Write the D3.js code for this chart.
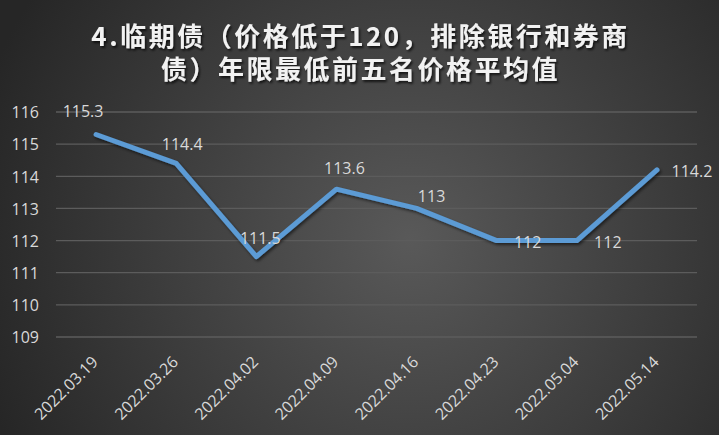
<!DOCTYPE html>
<html><head><meta charset="utf-8">
<script src="https://cdn.jsdelivr.net/npm/d3@7/dist/d3.min.js"></script>
<style>html,body{margin:0;padding:0;background:#fff;overflow:hidden}</style>
</head><body>
<svg id="c" width="721" height="435"></svg>
<script>
const categories = ["2022.03.19","2022.03.26","2022.04.02","2022.04.09","2022.04.16","2022.04.23","2022.05.04","2022.05.14"];
const values = [115.3, 114.4, 111.5, 113.6, 113, 112, 112, 114.2];
const yTicks = [109, 110, 111, 112, 113, 114, 115, 116];
const titleLines = ["4.临期债（价格低于120，排除银行和券商", "债）年限最低前五名价格平均值"];
// label offsets (dx, dy) relative to each point
const labelOffsets = [[-13,-23],[6,-19],[4,-18],[8,-21],[15,-12],[31,2],[31,2],[35,1]];

const svg = d3.select("#c");
const W = 721, H = 435;
const defs = svg.append("defs");
const rg = defs.append("radialGradient").attr("id","bg").attr("gradientUnits","userSpaceOnUse")
  .attr("cx",410).attr("cy",240).attr("r",450);
rg.append("stop").attr("offset","0%").attr("stop-color","#595959");
rg.append("stop").attr("offset","100%").attr("stop-color","#262626");
const sh = defs.append("filter").attr("id","sh").attr("x","-10%").attr("y","-10%").attr("width","120%").attr("height","130%");
sh.append("feDropShadow").attr("dx",1.5).attr("dy",2).attr("stdDeviation",1.5).attr("flood-color","#000").attr("flood-opacity",0.55);
const tsh = defs.append("filter").attr("id","tsh").attr("x","-5%").attr("y","-20%").attr("width","110%").attr("height","150%");
tsh.append("feDropShadow").attr("dx",1.5).attr("dy",2).attr("stdDeviation",1.2).attr("flood-color","#000").attr("flood-opacity",0.7);

svg.append("rect").attr("width",719).attr("height",H).attr("fill","url(#bg)");
svg.append("rect").attr("x",719).attr("width",2).attr("height",H).attr("fill","#fff");

const x = d3.scaleBand().domain(categories).range([56, 697]);
const y = d3.scaleLinear().domain([109, 116]).range([337, 112]);

// gridlines
svg.append("g").selectAll("line").data(yTicks).join("line")
  .attr("x1",56).attr("x2",697)
  .attr("y1",d=>y(d)).attr("y2",d=>y(d))
  .attr("stroke","#5c5c5c").attr("stroke-width",1.3);

// y axis labels
const yAxis = d3.axisLeft(y).tickValues(yTicks).tickFormat(d3.format("d")).tickSize(0).tickPadding(0);
const ya = svg.append("g").attr("transform","translate(39,0)").call(yAxis);
ya.select(".domain").remove();
ya.selectAll("text").attr("fill","#d9d9d9").attr("font-family","Open Sans").attr("font-size",16).attr("dy","0.36em");

// x axis labels
const xAxis = d3.axisBottom(x).tickSize(0).tickPadding(0);
const xa = svg.append("g").call(xAxis);
xa.select(".domain").remove();
xa.selectAll(".tick").attr("transform", d => `translate(${x(d)+x.bandwidth()/2+3},363)`);
xa.selectAll("text").attr("fill","#d9d9d9").attr("font-family","Open Sans").attr("font-size",16)
  .attr("text-anchor","end").attr("dy",0).attr("y",0).attr("transform","rotate(-45)");

// line
const cx = d => x(d)+x.bandwidth()/2;
const line = d3.line().x((d,i)=>cx(categories[i])).y(d=>y(d));
svg.append("path").datum(values).attr("d",line)
  .attr("fill","none").attr("stroke","#5b9bd5").attr("stroke-width",5)
  .attr("stroke-linejoin","round").attr("stroke-linecap","round").attr("filter","url(#sh)");

// data labels
svg.append("g").selectAll("text").data(values).join("text")
  .attr("x",(d,i)=>cx(categories[i])+labelOffsets[i][0])
  .attr("y",(d,i)=>y(d)+labelOffsets[i][1])
  .attr("dy","0.36em").attr("text-anchor","middle")
  .attr("fill","#d9d9d9").attr("font-family","Open Sans").attr("font-size",16)
  .text(d=>d);

// title
svg.append("g").attr("filter","url(#tsh)").selectAll("text").data(titleLines).join("text")
  .attr("x",W/2).attr("y",(d,i)=>46+i*33)
  .attr("text-anchor","middle").attr("fill","#f2f2f2")
  .attr("font-family","Noto Sans CJK SC").attr("font-weight","bold").attr("font-size",26)
  .attr("letter-spacing",2.5)
  .text(d=>d);
</script>
</body></html>
